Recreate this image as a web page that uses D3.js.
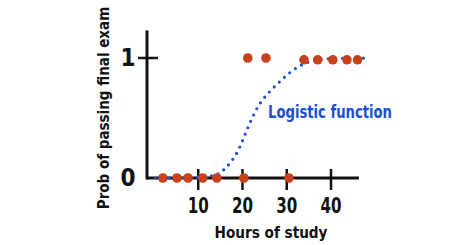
<!DOCTYPE html>
<html>
<head>
<meta charset="utf-8">
<script src="https://cdn.jsdelivr.net/npm/d3@7"></script>
<style>
  body { margin: 0; background: #fff; }
  text { font-family: "DejaVu Sans Condensed", "DejaVu Sans", sans-serif; font-weight: bold; }
</style>
</head>
<body>
<svg id="chart" width="474" height="245"></svg>
<script>
// data
var failHours = [2, 5.2, 7.7, 11, 14.2, 20.3, 30.5];
var passHours = [21.2, 25.3, 33.9, 37, 40.4, 43.6, 46];
var curveHours = [0.3, 13.3, 15.6, 17.2, 19.0, 20.1, 21.2, 22.3, 23.5, 25.1, 26.9, 28.9, 30.7, 33.0, 35.2, 37.5, 48];
var curveProb  = [0, 0, 0.06, 0.12, 0.22, 0.32, 0.42, 0.51, 0.60, 0.68, 0.75, 0.82, 0.88, 0.94, 0.97, 0.995, 1];
var xTicks = [10, 20, 30, 40];
var yTicks = [0, 1];

var svg = d3.select("#chart");

var x = d3.scaleLinear().domain([0, 40]).range([154, 331]);
var y = d3.scaleLinear().domain([0, 1]).range([178, 58]);

var ink = "#111";
var red = "#c8411b";
var blue = "#1c4fd4";

// axes lines
svg.append("line")
    .attr("x1", 147).attr("x2", 147)
    .attr("y1", y(1.23)).attr("y2", y(0) + 1.5)
    .attr("stroke", ink).attr("stroke-width", 3);
svg.append("line")
    .attr("x1", 147).attr("x2", x(46.3))
    .attr("y1", y(0)).attr("y2", y(0))
    .attr("stroke", ink).attr("stroke-width", 3);

// x ticks
svg.selectAll(".xtick")
    .data(xTicks)
    .enter()
    .append("line")
    .attr("x1", function(d) { return x(d); })
    .attr("x2", function(d) { return x(d); })
    .attr("y1", y(0) - 9)
    .attr("y2", y(0) + 12)
    .attr("stroke", ink).attr("stroke-width", 2.5);

svg.selectAll(".xlabel")
    .data(xTicks)
    .enter()
    .append("text")
    .attr("x", function(d) { return x(d); })
    .attr("y", 213)
    .attr("text-anchor", "middle")
    .attr("font-size", 21)
    .attr("textLength", 21)
    .attr("lengthAdjust", "spacingAndGlyphs")
    .attr("fill", ink)
    .text(function(d) { return d; });

// y tick at 1
svg.append("line")
    .attr("x1", 138).attr("x2", 158)
    .attr("y1", y(1)).attr("y2", y(1))
    .attr("stroke", ink).attr("stroke-width", 2.5);

svg.selectAll(".ylabel")
    .data(yTicks)
    .enter()
    .append("text")
    .attr("x", 128)
    .attr("y", function(d) { return y(d) + 8; })
    .attr("text-anchor", "middle")
    .attr("font-size", 24)
    .attr("fill", ink)
    .text(function(d) { return d; });

// axis titles
svg.append("text")
    .attr("x", 271)
    .attr("y", 238)
    .attr("text-anchor", "middle")
    .attr("font-size", 16)
    .attr("textLength", 113)
    .attr("lengthAdjust", "spacingAndGlyphs")
    .attr("fill", ink)
    .text("Hours of study");

svg.append("text")
    .attr("transform", "translate(109,108) rotate(-90)")
    .attr("text-anchor", "middle")
    .attr("font-size", 15)
    .attr("fill", ink)
    .text("Prob of passing final exam");

// logistic curve (dotted)
var line = d3.line()
    .x(function(d, i) { return x(d); })
    .y(function(d, i) { return y(curveProb[i]); })
    .curve(d3.curveBasis);

svg.append("path")
    .datum(curveHours)
    .attr("d", line)
    .attr("fill", "none")
    .attr("stroke", blue)
    .attr("stroke-width", 3.2)
    .attr("stroke-linecap", "round")
    .attr("stroke-dasharray", "0 7");

svg.append("text")
    .attr("x", 268)
    .attr("y", 118)
    .attr("font-size", 17)
    .attr("textLength", 124)
    .attr("lengthAdjust", "spacingAndGlyphs")
    .attr("fill", blue)
    .text("Logistic function");

// data points
svg.selectAll(".fail")
    .data(failHours)
    .enter()
    .append("circle")
    .attr("cx", function(d) { return x(d); })
    .attr("cy", y(0))
    .attr("r", 4.8)
    .attr("fill", red);

svg.selectAll(".pass")
    .data(passHours)
    .enter()
    .append("circle")
    .attr("cx", function(d) { return x(d); })
    .attr("cy", function(d) { return d > 30 ? y(0.985) : y(1); })
    .attr("r", 4.8)
    .attr("fill", red);
</script>
</body>
</html>
